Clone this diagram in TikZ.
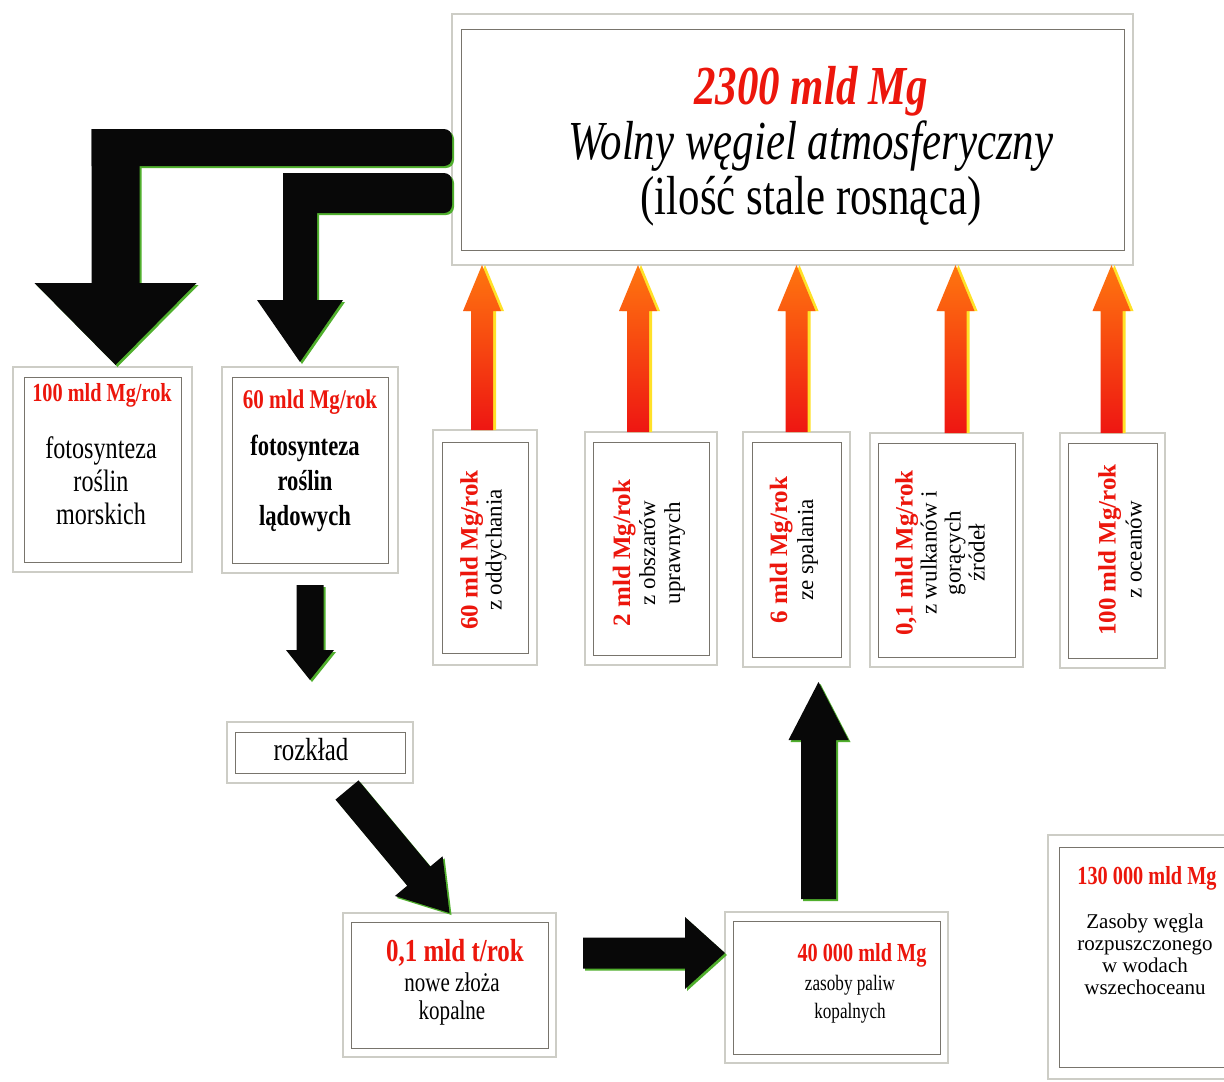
\documentclass[tikz,border=0pt]{standalone}
\usepackage{fontspec}
\setmainfont{Liberation Serif}
\newfontfamily\cond{Liberation Serif}[FakeStretch=0.78]
\usetikzlibrary{calc}
\definecolor{txtred}{RGB}{236,22,12}
\definecolor{glowgreen}{RGB}{80,175,45}
\definecolor{arrblack}{RGB}{8,8,8}
\definecolor{boxgray}{RGB}{205,205,198}
\definecolor{innergray}{RGB}{120,116,108}
\definecolor{orA}{RGB}{255,118,15}
\definecolor{orB}{RGB}{238,22,18}
\definecolor{glowyellow}{RGB}{255,225,40}
\newcommand\fs[2]{\fontsize{#1}{#2}\selectfont}
% fat arrow polygon: [style]{start}{tip}{half shaft}{half head}{head length}
\newcommand\fatarrow[6][]{%
  \coordinate (faA) at (#2);
  \coordinate (faB) at (#3);
  \coordinate (faC) at ($(faB)!#6!(faA)$);
  \path[#1] ($(faA)!#4!90:(faB)$) -- ($(faC)!#4!90:(faB)$) -- ($(faC)!#5!90:(faB)$) -- (faB)
    -- ($(faC)!#5!-90:(faB)$) -- ($(faC)!#4!-90:(faB)$) -- ($(faA)!#4!-90:(faB)$) -- cycle;}
\newcommand\innerrect[3]{\draw[ibox] ($(#1.north west)+(#2,#3)$) rectangle ($(#1.south east)+(-#2,-#3)$);}
\newcommand\blackshapes[1]{%
  \path[#1] ($(t1 |- bar1b)+(-24,0)$) -- ($(t1 |- bar1t)+(-24,0)$) [rounded corners=8pt] -- (atm.west |- bar1t) -- (atm.west |- bar1b) [sharp corners] -- cycle;
  \fatarrow[#1]{$(t1 |- bar1t)$}{t1}{24pt}{81pt}{82pt}
  \path[#1] ($(t2 |- bar2b)+(-17,0)$) -- ($(t2 |- bar2t)+(-17,0)$) [rounded corners=8pt] -- (atm.west |- bar2t) -- (atm.west |- bar2b) [sharp corners] -- cycle;
  \fatarrow[#1]{$(t2 |- bar2t)$}{t2}{17pt}{43pt}{62pt}
  \fatarrow[#1]{d1}{d2}{13.5pt}{24pt}{30pt}
  \fatarrow[#1]{g1}{b01.north}{15pt}{31pt}{48pt}
  \fatarrow[#1]{r1}{r2}{15.5pt}{36pt}{40pt}
  \fatarrow[#1]{u1}{u2}{17.5pt}{30pt}{58pt}}
\begin{document}
\begin{tikzpicture}[x=1pt,y=-1pt,
  obox/.style={draw=boxgray, line width=2pt, fill=white, inner sep=0pt, outer sep=0pt, rectangle},
  ibox/.style={draw=innergray, line width=0.9pt},
  redlab/.style={text=txtred, inner sep=0pt},
  blk/.style={text=black, inner sep=0pt, align=center}]
\useasboundingbox (0,0) rectangle (1224,1082);
\clip (0,0) rectangle (1224,1082);
\fill[white] (0,0) rectangle (1224,1082);

% ---------- boxes ----------
\node[obox, minimum width=681pt, minimum height=251pt] (atm) at (792.5,139.5) {};
\innerrect{atm}{9}{15}
\node[obox, minimum width=179pt, minimum height=205pt] (b1) at (102.5,469.5) {};
\innerrect{b1}{11}{10}
\node[obox, minimum width=176pt, minimum height=206pt] (b2) at (310,470) {};
\innerrect{b2}{10}{10}
\node[obox, minimum width=104pt, minimum height=235pt] (s1) at (485,547.5) {};
\innerrect{s1}{9}{12}
\node[obox, minimum width=132pt, minimum height=233pt] (s2) at (651,548.5) {};
\innerrect{s2}{8}{10}
\node[obox, minimum width=107pt, minimum height=235pt] (s3) at (796.5,549.5) {};
\innerrect{s3}{9}{10}
\node[obox, minimum width=153pt, minimum height=234pt] (s4) at (946.5,550) {};
\innerrect{s4}{8}{10}
\node[obox, minimum width=105pt, minimum height=235pt] (s5) at (1112.5,550.5) {};
\innerrect{s5}{8}{10}
\node[obox, minimum width=186pt, minimum height=61pt] (rz) at (320,752.5) {};
\innerrect{rz}{8}{10}
\node[obox, minimum width=213pt, minimum height=144pt] (b01) at (449.5,985) {};
\innerrect{b01}{8}{9}
\node[obox, minimum width=223pt, minimum height=151pt] (fos) at (836.5,987.5) {};
\innerrect{fos}{8}{9}
\node[obox, minimum width=192pt, minimum height=244pt] (oc) at (1144,957) {};
\innerrect{oc}{11}{12}

% ---------- texts ----------
\node[blk, font=\cond\fs{55}{55}] (atmt) at (811,146) {{\bfseries\itshape\color{txtred}2300 mld Mg}\\{\itshape Wolny węgiel atmosferyczny}\\(ilość stale rosnąca)};
\node[redlab, font=\cond\bfseries\fs{26}{26}] (b1r) at (102,395) {100 mld Mg/rok};
\node[blk, font=\cond\fs{31}{33}] (b1t) at (101,481) {fotosynteza\\roślin\\morskich};
\node[redlab, font=\cond\bfseries\fs{27}{27}] (b2r) at (310,402) {60 mld Mg/rok};
\node[blk, font=\cond\bfseries\fs{29}{35}] (b2t) at (305,483) {fotosynteza\\roślin\\lądowych};
\node[blk, rotate=90, font=\fs{23}{24}] (s1t) at (483.5,550) {{\bfseries\fs{25}{24}\color{txtred}60 mld Mg/rok}\\z oddychania};
\node[blk, rotate=90, font=\fs{23}{25}] (s2t) at (649,553) {{\bfseries\fs{25}{25}\color{txtred}2 mld Mg/rok}\\z obszarów\\uprawnych};
\node[blk, rotate=90, font=\fs{23}{26}] (s3t) at (794,550) {{\bfseries\fs{25}{26}\color{txtred}6 mld Mg/rok}\\ze spalania};
\node[blk, rotate=90, font=\fs{23}{24}] (s4t) at (940,553) {{\bfseries\fs{25}{24}\color{txtred}0,1 mld Mg/rok}\\z wulkanów i\\gorących\\źródeł};
\node[blk, rotate=90, font=\fs{23}{26}] (s5t) at (1120,550) {{\bfseries\fs{25}{26}\color{txtred}100 mld Mg/rok}\\z oceanów};
\node[blk, font=\cond\fs{32}{32}] (rzt) at (311,750) {rozkład};
\node[redlab, font=\cond\bfseries\fs{32}{32}] (b01r) at (455,953) {0,1 mld t/rok};
\node[blk, font=\cond\fs{27}{28}] (b01t) at (452,999) {nowe złoża\\kopalne};
\node[redlab, font=\cond\bfseries\fs{26}{26}] (fosr) at (862,955) {40 000 mld Mg};
\node[blk, font=\cond\fs{22}{28}] (fost) at (850,999) {zasoby paliw\\kopalnych};
\node[redlab, font=\cond\bfseries\fs{26}{26}] (ocr) at (1147,878) {130 000 mld Mg};
\node[blk, font=\fs{21}{22}] (oct) at (1145,954) {Zasoby węgla\\rozpuszczonego\\w wodach\\wszechoceanu};

% ---------- helper coordinates for connectors ----------
\coordinate (bar1t) at (0,129); \coordinate (bar1b) at (0,166);
\coordinate (bar2t) at (0,173); \coordinate (bar2b) at (0,213);
\coordinate (t1) at ($(b1.north)+(13,-2)$);
\coordinate (t2) at ($(b2.north)+(-10,-5)$);
\coordinate (d1) at ($(b2.south)+(0,12)$);
\coordinate (d2) at ($(b2.south |- rz.north)+(0,-42)$);
\coordinate (g1) at ($(rz.south)+(27,7)$);
\coordinate (r1) at ($(b01.east)+(27,-32)$);
\coordinate (r2) at (fos.west |- r1);
\coordinate (u1) at ($(fos.north)+(-18,-13)$);
\coordinate (u2) at ($(u1 |- s3.south)+(0,15)$);

% ---------- black arrows with green glow ----------
\begin{scope}[transform canvas={shift={(2pt,-2pt)}}]
  \blackshapes{fill=glowgreen}
\end{scope}
\blackshapes{fill=arrblack}

% ---------- orange arrows ----------
\foreach \n/\dx in {s1/-3, s2/-13, s3/0, s4/9, s5/-1}{
  \coordinate (o1) at ($(\n.north)+(\dx,0)$);
  \coordinate (o2) at (o1 |- atm.south);
  \begin{scope}[transform canvas={xshift=3pt}]
    \fatarrow[fill=glowyellow]{o1}{o2}{11pt}{19pt}{46pt}
  \end{scope}
  \fatarrow[top color=orA, bottom color=orB]{o1}{o2}{11pt}{19pt}{46pt}
}
\end{tikzpicture}
\end{document}
